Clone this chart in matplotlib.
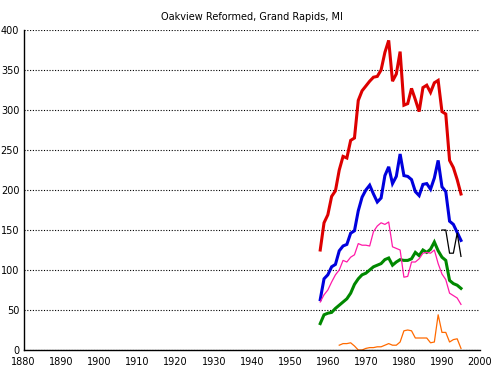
import matplotlib
matplotlib.use("Agg")
import matplotlib.pyplot as plt

title = "Oakview Reformed, Grand Rapids, MI"

years = list(range(1958, 1996))
red = [125, 159, 169, 192, 199, 225, 242, 240, 262, 265, 312, 324, 330, 336, 341, 342,
       350, 372, 387, 336, 345, 373, 306, 308, 327, 313, 298, 328, 331, 322, 334, 337,
       298, 295, 237, 228, 213, 195]
blue = [63, 89, 94, 104, 107, 124, 130, 132, 146, 149, 174, 191, 200, 206, 195, 185,
        190, 218, 229, 208, 217, 245, 218, 217, 213, 198, 193, 207, 208, 201, 215, 237,
        204, 198, 161, 157, 147, 137]
green = [33, 44, 46, 47, 52, 56, 60, 64, 71, 82, 89, 94, 96, 100, 104, 106,
         108, 113, 115, 106, 110, 113, 112, 112, 114, 122, 118, 125, 122, 126, 135, 124,
         116, 112, 87, 83, 81, 77]
pink = [60, 69, 75, 85, 94, 100, 112, 110, 116, 119, 133, 131, 131, 130, 148, 155,
        159, 157, 160, 129, 127, 125, 91, 92, 110, 110, 114, 121, 122, 121, 125, 108,
        95, 88, 71, 68, 65, 57]

orange_years = list(range(1963, 1996))
orange = [6, 8, 8, 9, 5, 0, 0, 2, 3, 3, 4, 4, 6, 8, 6, 6, 10, 24, 25, 24, 15, 15, 15,
          15, 9, 10, 44, 22, 22, 10, 13, 14, 2]

black_years = list(range(1990, 1996))
black = [150, 150, 121, 121, 146, 117]

x_ticks = list(range(1880, 2001, 10))
y_ticks = list(range(0, 401, 50))

fig = plt.figure(figsize=(4.92, 3.66), dpi=100)
ax = fig.add_axes([23.5 / 492, 1 - 350 / 366, (480 - 23.5) / 492, 320 / 366])

ax.plot(years, red, color="#dd0000", lw=2.2, solid_joinstyle="miter", zorder=3)
ax.plot(years, blue, color="#0000dd", lw=2.2, solid_joinstyle="miter", zorder=3)
ax.plot(years, green, color="#008800", lw=2.2, solid_joinstyle="miter", zorder=3)
ax.plot(years, pink, color="#ff1aa8", lw=0.9, zorder=4)
ax.plot(orange_years, orange, color="#ff6a00", lw=0.9, zorder=4)
ax.plot(black_years, black, color="black", lw=0.9, zorder=4)

ax.set_xlim(1880, 2000)
ax.set_ylim(0, 400)
ax.set_xticks(x_ticks)
ax.set_yticks(y_ticks)
ax.tick_params(length=0, labelsize=7)
ax.tick_params(axis="x", pad=5)
ax.tick_params(axis="y", pad=3)
for s in ("top", "right"):
    ax.spines[s].set_visible(False)
for s in ("left", "bottom"):
    ax.spines[s].set_linewidth(1.0)
    ax.spines[s].set_color("black")
    ax.spines[s].set_zorder(5)
ax.yaxis.grid(True, color="black", lw=0.8, linestyle=(0, (1, 1.5)))
ax.set_axisbelow(True)
ax.set_title(title, fontsize=7, pad=7)

fig.savefig("out.png", dpi=100)
